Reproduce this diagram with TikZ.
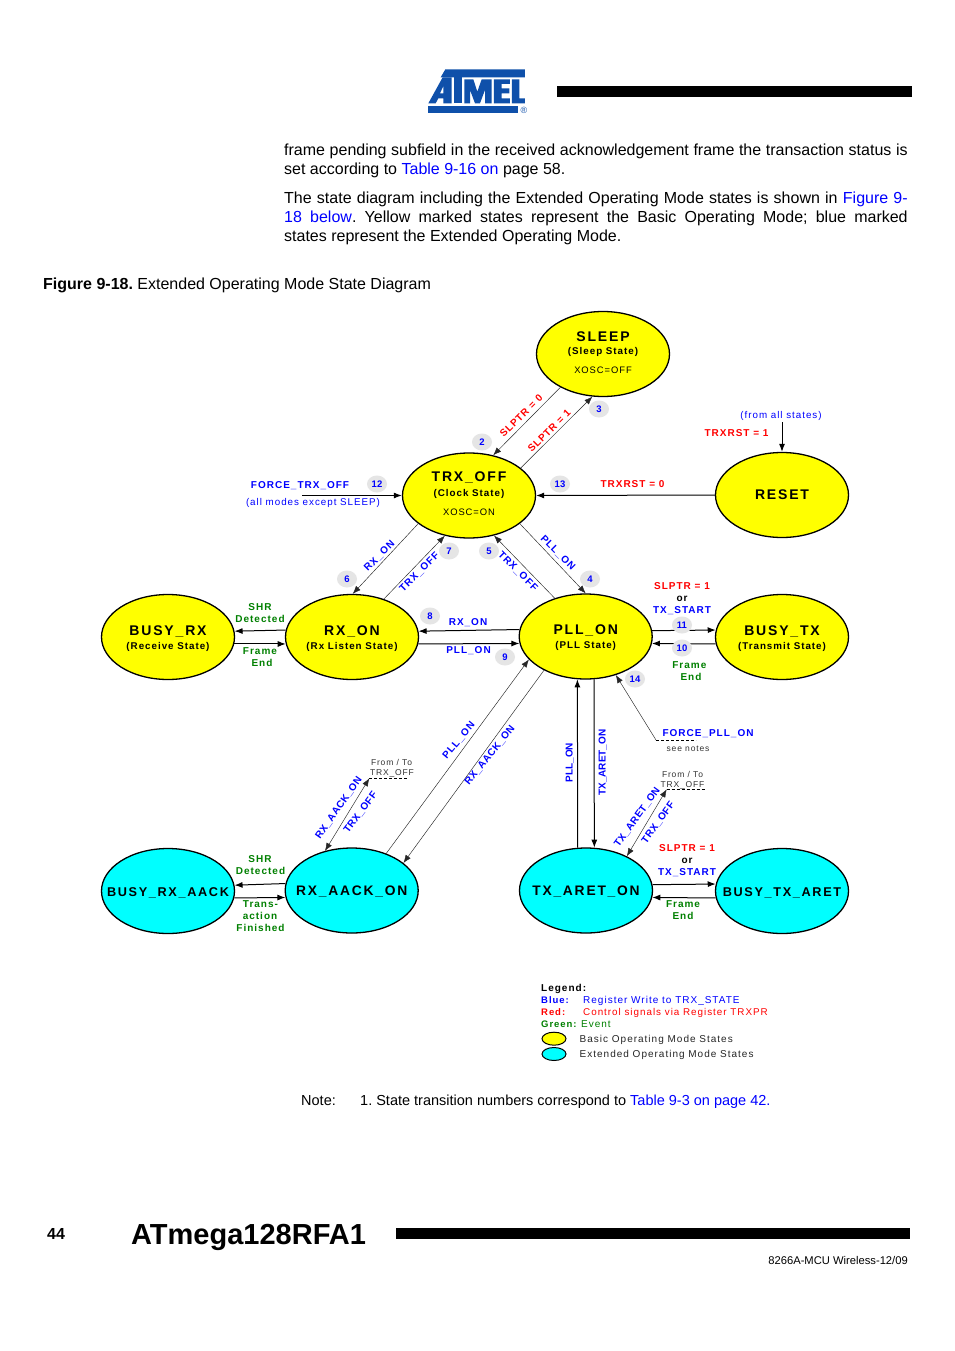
\documentclass[tikz,border=0pt]{standalone}
\usepackage{fontspec}
\setmainfont{Liberation Sans}
\newfontfamily\dg[LetterSpace=10]{Liberation Sans}
\newfontfamily\dgt[LetterSpace=13]{Liberation Sans}
\newfontfamily\dgm[LetterSpace=5]{Liberation Sans}
\usetikzlibrary{arrows.meta,shapes.geometric}
\frenchspacing
\definecolor{lnk}{RGB}{0,0,255}
\definecolor{ev}{RGB}{0,128,0}
\definecolor{ybg}{RGB}{255,255,0}
\definecolor{cbg}{RGB}{0,255,255}
\definecolor{badgec}{RGB}{229,229,229}
\definecolor{logoc}{RGB}{15,80,170}
\newcommand{\ttlf}{\dgt\bfseries\fontsize{14}{14.5}\selectfont}
\newcommand{\ttlm}{\dgt\bfseries\fontsize{13.8}{14.5}\selectfont}
\newcommand{\ttls}{\dgt\bfseries\fontsize{12.7}{14.5}\selectfont}
\newcommand{\subf}{\dg\bfseries\fontsize{9.8}{14.5}\selectfont}
\newcommand{\oscf}{\dg\fontsize{9.4}{14}\selectfont}
\newcommand{\oneline}[1]{\makebox[0pt][c]{\raisebox{-5pt}[0pt][0pt]{#1}}}
\tikzset{
  ystate/.style={ellipse,draw=black,line width=1.3pt,fill=ybg,minimum width=133pt,minimum height=85pt,inner sep=0pt,align=center},
  cstate/.style={ystate,fill=cbg},
  thick link/.style={draw=black,line width=1pt,-{Latex[length=8pt,width=6pt]}},
  thin link/.style={draw=black!85,line width=0.45pt,-{Latex[length=8pt,width=6pt]}},
  both link/.style={draw=black!85,line width=0.45pt,{Latex[length=8pt,width=6pt]}-{Latex[length=8pt,width=6pt]}},
  dash link/.style={draw=black,line width=0.45pt,densely dashed},
  lab/.style={inner sep=0pt,text height=7.2pt,text depth=0pt,font=\dg\bfseries\fontsize{10}{12}\selectfont},
  bl/.style={lab,text=lnk},
  blm/.style={bl,font=\dgm\bfseries\fontsize{10}{12}\selectfont},
  bln/.style={bl,font=\bfseries\fontsize{10}{12}\selectfont},
  rd/.style={lab,text=red},
  gr/.style={lab,text=ev},
  bk/.style={lab,text=black},
  legb/.style={inner sep=0pt,text height=7pt,text depth=0pt,anchor=west,font=\dg\bfseries\fontsize{9.5}{11}\selectfont},
  plainlab/.style={inner sep=0pt,text height=6.5pt,text depth=0pt,font=\dg\fontsize{9.8}{11}\selectfont},
  note/.style={plainlab,text=black!80,font=\dg\fontsize{8.5}{10}\selectfont},
  legt/.style={plainlab,anchor=west,font=\dg\fontsize{10}{11}\selectfont},
  badge/.style={ellipse,fill=badgec,minimum width=20pt,minimum height=17pt,inner sep=0pt,text=lnk,font=\bfseries\fontsize{9.5}{11}\selectfont},
  body/.style={inner sep=0pt,anchor=base west,font=\fontsize{16}{18}\selectfont},
  logopart/.style={fill=logoc,draw=none},
}
\begin{document}
\begin{tikzpicture}[x=1pt,y=-1pt]
\useasboundingbox (0,0) rectangle (954,1351);
\fill[white] (0,0) rectangle (954,1351);

% logo
\begin{scope}[shift={(420,60)},x=0.3333pt,y=-0.3333pt]
  \fill[logopart] (76,28) -- (315,28) -- (315,52) -- (62,52) -- cycle;
  \fill[logopart,even odd rule] (25,130) -- (68,52) -- (95,52) -- (95,130) -- (70,130) -- (70,115) -- (55,115) -- (47,130) -- cycle (70,100) -- (70,78) -- (60,100) -- cycle;
  \fill[logopart] (102,52) -- (125,52) -- (125,130) -- (102,130) -- cycle;
  \fill[logopart] (133,58) -- (160,58) -- (172,95) -- (185,58) -- (215,58) -- (215,130) -- (195,130) -- (195,90) -- (180,130) -- (165,130) -- (150,90) -- (150,130) -- (133,130) -- cycle;
  \fill[logopart] (222,58) -- (270,58) -- (270,72) -- (245,72) -- (245,85) -- (268,85) -- (268,100) -- (245,100) -- (245,115) -- (270,115) -- (270,130) -- (222,130) -- cycle;
  \fill[logopart] (276,58) -- (298,58) -- (298,115) -- (315,115) -- (315,130) -- (276,130) -- cycle;
  \fill[logopart] (25,138) -- (295,138) -- (295,158) -- (25,158) -- cycle;
\end{scope}
\node[inner sep=0pt,text=logoc,font=\fontsize{9}{9}\selectfont] (reg) at (524,110) {®};
\fill[black] (557,86) rectangle (912,97);

% body text
\node[body] (l1) at (284,156) {\makebox[623.5pt][s]{frame pending subfield in the received acknowledgement frame the transaction status is}};
\node[body] (l2) at (284,175) {set according to \textcolor{lnk}{Table 9-16 on} page 58.};
\node[body] (l3) at (284,203.5) {\makebox[623.5pt][s]{The state diagram including the Extended Operating Mode states is shown in \textcolor{lnk}{Figure 9-}}};
\node[body] (l4) at (284,222.5) {\makebox[623.5pt][s]{\textcolor{lnk}{18 below}. Yellow marked states represent the Basic Operating Mode; blue marked}};
\node[body] (l5) at (284,241.5) {states represent the Extended Operating Mode.};
\node[body] (cap) at (43,289) {\textbf{Figure 9-18.} Extended Operating Mode State Diagram};

% states
\node[ystate] (sleep) at (603,354) {\ttlf SLEEP\\[1pt]\subf (Sleep State)\\[6.5pt]\oscf XOSC=OFF\rule[-2.5pt]{0pt}{2.5pt}};
\node[ystate] (trxoff) at (469,495.5) {\ttlf TRX\_OFF\\[2.5pt]\subf (Clock State)\\[7.5pt]\oscf XOSC=ON\rule[-3pt]{0pt}{3pt}};
\node[ystate] (reset) at (782,495) {\ttlf RESET};
\node[ystate] (busyrx) at (168,637) {\ttlf\rule{0pt}{12.4pt}BUSY\_RX\\[2pt]\subf (Receive State)};
\node[ystate] (rxon) at (352,637) {\ttlf\rule{0pt}{12.4pt}RX\_ON\\[2pt]\subf (Rx Listen State)};
\node[ystate] (pllon) at (585.7,636.5) {\ttlf\rule{0pt}{12.4pt}PLL\_ON\\[2pt]\subf (PLL State)};
\node[ystate] (busytx) at (782,637) {\ttlf\rule{0pt}{12.4pt}BUSY\_TX\\[2pt]\subf (Transmit State)};
\node[cstate] (busyrxa) at (168,891) {\oneline{\ttls BUSY\_RX\_AACK}};
\node[cstate] (rxaack) at (351.7,890.5) {\oneline{\ttlm RX\_AACK\_ON}};
\node[cstate] (txaret) at (586,890.5) {\oneline{\ttlm TX\_ARET\_ON}};
\node[cstate] (busytxa) at (782,891) {\oneline{\ttls BUSY\_TX\_ARET}};

% free ends
\coordinate (ftrx) at (302,495.5);
\coordinate (allst) at (782,422);
\coordinate (fpll) at (656,740);
\coordinate (fpll2) at (696,740);
\coordinate (ft1) at (369.3,778.3);
\coordinate (ft1b) at (408.3,778.3);
\coordinate (ft2) at (666.7,789.3);
\coordinate (ft2b) at (705.7,789.3);

% connectors
\draw[thin link] (sleep.218.1) -- (trxoff.59.5);
\draw[thin link] (trxoff.28.7) -- (sleep.256.9);
\draw[thick link] (ftrx) -- (trxoff.180);
\draw[thick link] (reset.180) -- (trxoff.0);
\draw[thick link] (allst) -- (reset.90);
\draw[thin link] (trxoff.209.3) -- (rxon.89);
\draw[thin link] (rxon.50.3) -- (trxoff.239.3);
\draw[thin link] (trxoff.331.4) -- (pllon.90);
\draw[thin link] (pllon.129.4) -- (trxoff.302);
\draw[thick link] (pllon.174.4) -- (rxon.5.6);
\draw[thick link] (rxon.354) -- (pllon.186);
\draw[thick link] (rxon.174.4) -- (busyrx.5.6);
\draw[thick link] (busyrx.354) -- (rxon.186);
\draw[thick link] (pllon.5.6) -- (busytx.174.4);
\draw[thick link] (busytx.186) -- (pllon.354);
\draw[thick link] (txaret.101.1) -- (pllon.259.3);
\draw[thick link] (pllon.281.5) -- (txaret.79.2);
\draw[thin link] (fpll) -- (pllon.308.8);
\draw[dash link] (fpll) -- (fpll2);
\draw[thin link] (pllon.219.7) -- (rxaack.28.3);
\draw[thin link] (rxaack.47.3) -- (pllon.202.2);
\draw[both link] (ft1) -- (rxaack.124.1);
\draw[dash link] (ft1) -- (ft1b);
\draw[both link] (ft2) -- (txaret.40.3);
\draw[dash link] (ft2) -- (ft2b);
\draw[thick link] (rxaack.174.4) -- (busyrxa.5.6);
\draw[thick link] (busyrxa.354) -- (rxaack.186);
\draw[thick link] (txaret.5.6) -- (busytxa.174.4);
\draw[thick link] (busytxa.186) -- (txaret.354);

% badges
\node[badge] (b2) at (482,442) {2};
\node[badge] (b3) at (599,409) {3};
\node[badge] (b12) at (377,484) {12};
\node[badge] (b13) at (560,484) {13};
\node[badge] (b7) at (449,551) {7};
\node[badge] (b5) at (489,551) {5};
\node[badge] (b6) at (347,579) {6};
\node[badge] (b4) at (590,579) {4};
\node[badge] (b8) at (430,616) {8};
\node[badge] (b9) at (505,657) {9};
\node[badge] (b11) at (682,625) {11};
\node[badge] (b10) at (682,648) {10};
\node[badge] (b14) at (635,679) {14};

% labels
\node[rd,rotate=45] (t1) at (521,415.7) {SLPTR = 0};
\node[rd,rotate=45] (t2) at (549,430.7) {SLPTR = 1};
\node[bl] (t3) at (300,484.5) {FORCE\_TRX\_OFF};
\node[plainlab,text=lnk] (t4) at (313,502) {(all modes except SLEEP)};
\node[rd] (t5) at (632.5,484) {TRXRST = 0};
\node[plainlab,text=lnk] (t6) at (781,415) {(from all states)};
\node[rd] (t7) at (736.5,433) {TRXRST = 1};
\node[bl,rotate=45] (t8) at (379,555.7) {RX\_ON};
\node[bl,rotate=45] (t9) at (419,572) {TRX\_OFF};
\node[bl,rotate=-45] (t10) at (518.3,570.7) {TRX\_OFF};
\node[bl,rotate=-45] (t11) at (558.3,552.3) {PLL\_ON};
\node[gr] (t12) at (260,606.7) {SHR};
\node[gr] (t13) at (260,618.5) {Detected};
\node[gr] (t14) at (260,650.7) {Frame};
\node[gr] (t15) at (262,662.7) {End};
\node[bl] (t16) at (468,622) {RX\_ON};
\node[bl] (t17) at (468.5,650) {PLL\_ON};
\node[rd] (t18) at (682,586) {SLPTR = 1};
\node[bk] (t19) at (682,598) {or};
\node[bl] (t20) at (682,610) {TX\_START};
\node[gr] (t21) at (689.3,664.7) {Frame};
\node[gr] (t22) at (691,676.7) {End};
\node[bl] (t23) at (708,733) {FORCE\_PLL\_ON};
\node[note] (t24) at (688,748.5) {see notes};
\node[note] (t25) at (391.5,762.5) {From / To};
\node[note] (t26) at (392,772.5) {TRX\_OFF};
\node[note] (t27) at (682.5,774.5) {From / To};
\node[note] (t28) at (682.5,784) {TRX\_OFF};
\node[blm,rotate=55] (t29) at (338.3,807.3) {RX\_AACK\_ON};
\node[blm,rotate=53] (t30) at (360,812.3) {TRX\_OFF};
\node[bl,rotate=50] (t31) at (458.3,740) {PLL\_ON};
\node[blm,rotate=51] (t32) at (489.3,755) {RX\_AACK\_ON};
\node[bln,rotate=90] (t33) at (569,762.5) {PLL\_ON};
\node[bln,rotate=90] (t34) at (602,762.5) {TX\_ARET\_ON};
\node[blm,rotate=54] (t35) at (636.7,816.7) {TX\_ARET\_ON};
\node[blm,rotate=54] (t36) at (657.7,822.3) {TRX\_OFF};
\node[gr] (t37) at (260,858.5) {SHR};
\node[gr] (t38) at (260.5,870.5) {Detected};
\node[gr] (t39) at (260.5,904) {Trans-};
\node[gr] (t40) at (260,916) {action};
\node[gr] (t41) at (260.5,928) {Finished};
\node[rd] (t42) at (687,848) {SLPTR = 1};
\node[bk] (t43) at (687,860) {or};
\node[bl] (t44) at (687,871.5) {TX\_START};
\node[gr] (t45) at (683,904) {Frame};
\node[gr] (t46) at (683,916) {End};

% legend
\node[bk,anchor=west] (g1) at (541,988) {Legend:};
\node[legb,text=lnk] (g2) at (541,1000) {Blue:};
\node[legt,text=lnk] (g3) at (583,1000) {Register Write to TRX\_STATE};
\node[legb,text=red] (g4) at (541,1012) {Red:};
\node[legt,text=red,font=\dg\fontsize{9.85}{11}\selectfont] (g5) at (583,1012) {Control signals via Register TRXPR};
\node[legb,text=ev] (g6) at (541,1024) {Green:};
\node[legt,text=ev] (g7) at (581,1024) {Event};
\node[ellipse,draw=black,line width=1pt,fill=ybg,minimum width=24pt,minimum height=13pt,inner sep=0pt] (g8) at (554,1038.7) {};
\node[ellipse,draw=black,line width=1pt,fill=cbg,minimum width=24pt,minimum height=13pt,inner sep=0pt] (g9) at (554,1054) {};
\node[legt,text=black!85] (g10) at (579.5,1039) {Basic Operating Mode States};
\node[legt,text=black!85] (g11) at (579.5,1054) {Extended Operating Mode States};

% footer
\node[body,font=\fontsize{14.5}{17}\selectfont] (n1) at (301,1105) {Note:};
\node[body,font=\fontsize{14.5}{17}\selectfont] (n2) at (360,1105) {1. State transition numbers correspond to \textcolor{lnk}{Table 9-3 on page 42.}};
\node[body,font=\bfseries\fontsize{16}{18}\selectfont] (pg) at (47,1239) {44};
\node[body,font=\bfseries\fontsize{29}{30}\selectfont] (ttl) at (131,1244) {ATmega128RFA1};
\fill[black] (396,1228) rectangle (910,1239);
\node[inner sep=0pt,anchor=base east,font=\fontsize{11.2}{13}\selectfont] (rev) at (908,1264) {8266A-MCU Wireless-12/09};
\end{tikzpicture}
\end{document}
